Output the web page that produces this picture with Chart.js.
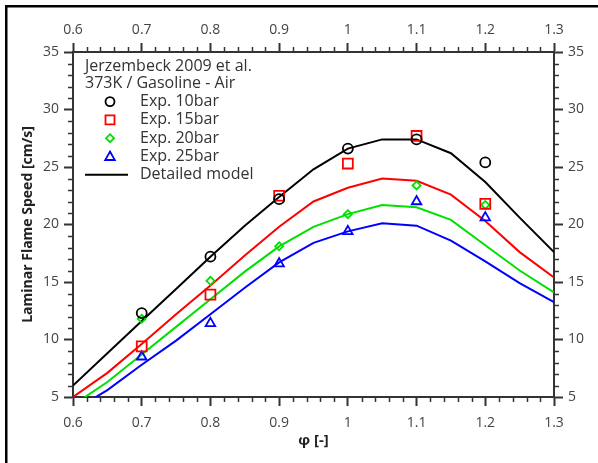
<!DOCTYPE html>
<html>
<head>
<meta charset="utf-8">
<script src="https://cdn.jsdelivr.net/npm/chart.js"></script>
<style>
  html, body { margin: 0; padding: 0; background: #fff; }
  canvas { display: block; }
</style>
</head>
<body>
<canvas id="flame-chart" width="598" height="463"></canvas>
<script>
// Laminar flame speed vs. equivalence ratio (Jerzembeck 2009 data + model)
const legendHeader = ['Jerzembeck 2009 et al.', '373K / Gasoline - Air'];

// model curves, every 0.05 in phi
const phiModel = [0.6, 0.65, 0.7, 0.75, 0.8, 0.85, 0.9, 0.95, 1.0, 1.05, 1.1, 1.15, 1.2, 1.25, 1.3];
const model10 = [6.0, 8.8, 11.6, 14.4, 17.2, 19.9, 22.4, 24.8, 26.6, 27.4, 27.4, 26.2, 23.7, 20.6, 17.6];
const model15 = [5.0, 7.1, 9.6, 12.2, 14.7, 17.3, 19.8, 22.0, 23.2, 24.0, 23.8, 22.6, 20.3, 17.6, 15.4];
const model20 = [4.3, 6.3, 8.7, 11.1, 13.5, 15.9, 18.1, 19.8, 20.9, 21.7, 21.5, 20.4, 18.2, 16.0, 14.1];
const model25 = [3.8, 5.6, 7.8, 9.9, 12.2, 14.5, 16.7, 18.4, 19.4, 20.1, 19.9, 18.6, 16.8, 14.9, 13.25];

// experiments
const phiExp = [0.7, 0.8, 0.9, 1.0, 1.1, 1.2];
const exp10 = [12.3, 17.2, 22.2, 26.6, 27.4, 25.4];
const exp15 = [9.4, 13.9, 22.5, 25.3, 27.7, 21.8];
const exp20 = [11.8, 15.1, 18.1, 20.9, 23.4, 21.7];
const exp25 = [8.5, 11.4, 16.6, 19.4, 22.0, 20.6];

const expLabels = ['Exp. 10bar', 'Exp. 15bar', 'Exp. 20bar', 'Exp. 25bar'];
const modelLabel = 'Detailed model';

const colors = ['#000000', '#ff0000', '#00e000', '#0000ff'];
const AXIS = '#333333';
const FONT = "'Open Sans', 'Noto Sans', sans-serif";

const toPoints = (xs, ys) => xs.map((x, i) => ({ x: x, y: ys[i] }));

const expStyles = [
  { pointStyle: 'circle', pointRadius: 5 },
  { pointStyle: 'rect', pointRadius: 7 },
  { pointStyle: 'rectRot', pointRadius: 4 },
  { pointStyle: 'triangle', pointRadius: 5.5 }
];

const expData = [exp10, exp15, exp20, exp25];
const modelData = [model10, model15, model20, model25];

const datasets = [];
expData.forEach((ys, i) => {
  datasets.push({
    label: expLabels[i],
    data: toPoints(phiExp, ys),
    showLine: false,
    borderColor: colors[i],
    backgroundColor: 'transparent',
    pointBorderColor: colors[i],
    pointBackgroundColor: 'transparent',
    pointBorderWidth: 1.8,
    pointStyle: expStyles[i].pointStyle,
    pointRadius: expStyles[i].pointRadius,
    pointHoverRadius: expStyles[i].pointRadius
  });
});
modelData.forEach((ys, i) => {
  datasets.push({
    label: modelLabel,
    data: toPoints(phiModel, ys),
    showLine: true,
    borderColor: colors[i],
    borderWidth: 2,
    pointRadius: 0,
    tension: 0
  });
});

// which ticks are the long, labelled ones
const isMajorX = (v) => Math.round(v * 100) % 10 === 0;
const isMajorY = (v) => Math.round(v) % 5 === 0;
const fmtX = (v) => String(Math.round(v * 10) / 10);

const xAxis = (position, height) => ({
  type: 'linear',
  position: position,
  min: 0.6,
  max: 1.3,
  afterFit: (scale) => { scale.height = height; },
  border: { display: true, color: AXIS, width: 2 },
  grid: {
    display: true,
    drawOnChartArea: false,
    drawTicks: true,
    tickLength: 9,
    tickWidth: 2,
    tickColor: (ctx) => (ctx.tick && isMajorX(ctx.tick.value) ? AXIS : 'transparent')
  },
  ticks: {
    stepSize: 0.02,
    autoSkip: false,
    maxRotation: 0,
    padding: position === 'top' ? 5 : 9,
    color: '#444',
    font: { family: FONT, size: 14 },
    callback: (v) => (isMajorX(v) ? fmtX(v) : '')
  }
});

const yAxis = (position, width) => ({
  type: 'linear',
  position: position,
  min: 5,
  max: 35,
  afterFit: (scale) => { scale.width = width; },
  border: { display: true, color: AXIS, width: 2 },
  grid: {
    display: true,
    drawOnChartArea: false,
    drawTicks: true,
    tickLength: 9,
    tickWidth: 2,
    tickColor: (ctx) => (ctx.tick && isMajorY(ctx.tick.value) ? AXIS : 'transparent')
  },
  ticks: {
    stepSize: 1,
    autoSkip: false,
    padding: 5,
    color: '#444',
    font: { family: FONT, size: 14 },
    callback: (v) => (isMajorY(v) ? String(v) : '')
  }
});

// short minor ticks, drawn outward like the major ones
const minorTicks = {
  id: 'minorTicks',
  afterDraw(chart) {
    const ctx = chart.ctx;
    ctx.save();
    ctx.strokeStyle = AXIS;
    ctx.lineWidth = 1.5;
    Object.values(chart.scales).forEach((s) => {
      const horiz = s.isHorizontal();
      s.ticks.forEach((t) => {
        if (horiz ? isMajorX(t.value) : isMajorY(t.value)) return;
        const p = Math.round(s.getPixelForValue(t.value)) + 0.5;
        ctx.beginPath();
        if (s.position === 'bottom') { ctx.moveTo(p, s.top); ctx.lineTo(p, s.top + 5); }
        if (s.position === 'top') { ctx.moveTo(p, s.bottom); ctx.lineTo(p, s.bottom - 5); }
        if (s.position === 'left') { ctx.moveTo(s.right, p); ctx.lineTo(s.right - 5, p); }
        if (s.position === 'right') { ctx.moveTo(s.left, p); ctx.lineTo(s.left + 5, p); }
        ctx.stroke();
      });
    });
    ctx.restore();
  }
};

// legend sits inside the plot, top-left
const insideLegend = {
  id: 'insideLegend',
  afterDraw(chart) {
    const ctx = chart.ctx;
    const area = chart.chartArea;
    const x0 = area.left + 12;
    const symX = area.left + 37;
    const textX = area.left + 67;
    let y = area.top + 14.5;
    const step = 18.3;
    ctx.save();
    ctx.font = '16px ' + FONT;
    ctx.fillStyle = '#333';
    ctx.textBaseline = 'middle';
    legendHeader.forEach((line) => {
      ctx.fillText(line, x0, y);
      y += step - 1;
    });
    y += 0.5;
    const sets = chart.data.datasets;
    for (let i = 0; i < 4; i++) {
      const ds = sets[i];
      ctx.strokeStyle = ds.pointBorderColor;
      ctx.lineWidth = 1.8;
      ctx.beginPath();
      if (ds.pointStyle === 'circle') ctx.arc(symX, y, 4.5, 0, Math.PI * 2);
      if (ds.pointStyle === 'rect') ctx.rect(symX - 4.5, y - 4.5, 9, 9);
      if (ds.pointStyle === 'rectRot') {
        ctx.moveTo(symX, y - 4); ctx.lineTo(symX + 4, y); ctx.lineTo(symX, y + 4); ctx.lineTo(symX - 4, y); ctx.closePath();
      }
      if (ds.pointStyle === 'triangle') {
        ctx.moveTo(symX, y - 5); ctx.lineTo(symX + 4.8, y + 3.5); ctx.lineTo(symX - 4.8, y + 3.5); ctx.closePath();
      }
      ctx.stroke();
      ctx.fillStyle = '#333';
      ctx.fillText(ds.label, textX, y);
      y += step;
    }
    ctx.strokeStyle = sets[4].borderColor;
    ctx.lineWidth = 2;
    ctx.beginPath();
    ctx.moveTo(area.left + 12, y);
    ctx.lineTo(area.left + 55, y);
    ctx.stroke();
    ctx.fillText(sets[4].label, textX, y);
    ctx.restore();
  }
};

// picture frame (top and left edges only are visible)
const frame = {
  id: 'frame',
  afterDraw(chart) {
    const ctx = chart.ctx;
    ctx.save();
    ctx.fillStyle = '#000';
    ctx.fillRect(5, 5, 593, 2.5);
    ctx.fillRect(5, 5, 2.5, 458);
    ctx.restore();
  }
};

new Chart(document.getElementById('flame-chart').getContext('2d'), {
  type: 'scatter',
  data: { datasets: datasets },
  options: {
    responsive: false,
    animation: false,
    devicePixelRatio: 1,
    layout: { padding: 0 },
    plugins: {
      legend: { display: false },
      tooltip: { enabled: false }
    },
    scales: {
      x: Object.assign(xAxis('bottom', 66), {
        title: {
          display: true,
          text: 'φ [-]',
          color: '#222',
          font: { family: FONT, size: 15, weight: 'bold' },
          padding: { top: 0, bottom: 13 }
        }
      }),
      x2: xAxis('top', 52),
      y: Object.assign(yAxis('left', 73), {
        title: {
          display: true,
          text: 'Laminar Flame Speed [cm/s]',
          color: '#222',
          font: { family: FONT, size: 14, weight: 'bold' },
          padding: { top: 20, bottom: 0 }
        }
      }),
      y2: yAxis('right', 44)
    }
  },
  plugins: [minorTicks, insideLegend, frame]
});
</script>
</body>
</html>
